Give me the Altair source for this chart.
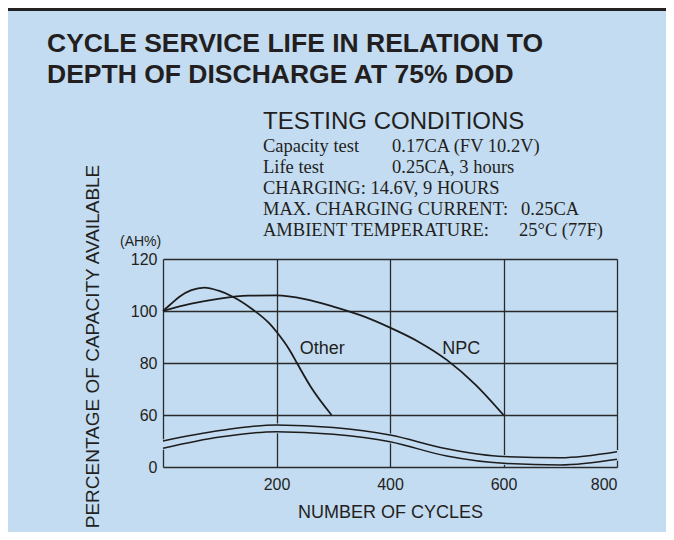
import altair as alt
import pandas as pd

# ---------------- data ----------------
cycles_ticks = [0, 200, 400, 600, 800]
capacity_ticks = [40, 60, 80, 100, 120]   # 40 is shown as "0" (broken axis)

npc_cycles = [0, 50, 100, 150, 200, 250, 300, 350, 400, 450, 500, 550, 600]
npc_capacity = [100, 102.8, 104.8, 105.9, 106.0, 104.6, 101.7, 98.2, 93.6, 88.2, 81.2, 71.8, 60]

other_cycles = [0, 12, 29, 50, 73, 98, 123, 158, 187, 200, 223, 236, 260, 297]
other_capacity = [100, 102.3, 105.5, 108, 109, 107.8, 105.5, 100.6, 95.3, 92, 85, 80, 71, 60]

band_cycles = [0, 100, 200, 300, 400, 500, 600, 700, 800]
band_upper = [50, 54, 56.2, 55.2, 52.3, 47, 44, 43.6, 45.9]
band_lower = [47.2, 51.5, 53.6, 52.6, 49.7, 44.2, 41.4, 40.8, 43]

series_labels = ["Other", "NPC"]
series_label_cycles = [241, 492]
series_label_capacity = [85.4, 85.4]

title_lines = ["CYCLE SERVICE LIFE IN RELATION TO", "DEPTH OF DISCHARGE AT 75% DOD"]
cond_heading = "TESTING CONDITIONS"
cond_left = ["Capacity test", "Life test", "CHARGING: 14.6V, 9 HOURS",
             "MAX. CHARGING CURRENT:", "AMBIENT TEMPERATURE:"]
cond_right = ["0.17CA (FV 10.2V)", "0.25CA, 3 hours", "", "0.25CA", "25°C (77F)"]

# ---------------- style ----------------
BG = "#c3dcf2"
INK = "#231f20"
LINE = "#1c1c1c"
SANS = "Liberation Sans"
SERIF = "Liberation Serif"

npc_df = pd.DataFrame({"cycles": npc_cycles, "capacity": npc_capacity})
other_df = pd.DataFrame({"cycles": other_cycles, "capacity": other_capacity})
band_df = pd.DataFrame({"cycles": band_cycles, "upper": band_upper, "lower": band_lower})
lab_df = pd.DataFrame({"label": series_labels, "cycles": series_label_cycles,
                       "capacity": series_label_capacity})

x_scale = alt.Scale(domain=[0, 800], nice=False)
y_scale = alt.Scale(domain=[40, 120], nice=False, zero=False)

x_axis = alt.Axis(values=cycles_ticks, labelExpr="datum.value == 0 ? '' : datum.label",
                  grid=True, domain=False, ticks=False, gridColor="#2a2a2a", gridWidth=1.3,
                  labelFontSize=16, labelPadding=9, labelFont=SANS, labelColor=INK,
                  title="NUMBER OF CYCLES", titleFont=SANS, titleFontSize=18,
                  titleFontWeight="normal", titleColor=INK, titleY=45, titleBaseline="middle")
y_axis = alt.Axis(values=capacity_ticks, labelExpr="datum.value == 40 ? '0' : datum.label",
                  grid=True, domain=False, ticks=False, gridColor="#2a2a2a", gridWidth=1.3,
                  labelFontSize=16, labelPadding=6, labelFont=SANS, labelColor=INK,
                  title="PERCENTAGE OF CAPACITY AVAILABLE", titleFont=SANS, titleFontSize=19,
                  titleFontWeight="normal", titleColor=INK, titleAngle=270, titleX=-71,
                  titleY=87, titleAlign="center", titleBaseline="middle")


def X():
    return alt.X("cycles:Q", scale=x_scale, axis=x_axis)


def Y(field):
    return alt.Y(f"{field}:Q", scale=y_scale, axis=y_axis)


npc_line = alt.Chart(npc_df).mark_line(color=LINE, strokeWidth=1.8, interpolate="monotone").encode(
    x=X(), y=Y("capacity"))
other_line = alt.Chart(other_df).mark_line(color=LINE, strokeWidth=1.8, interpolate="monotone").encode(
    x=X(), y=Y("capacity"))

band_fill = alt.Chart(band_df).mark_area(fill=BG, stroke=BG, strokeWidth=3, opacity=1,
                                         interpolate="monotone").encode(
    x=X(), y=Y("lower"), y2="upper:Q")
band_up = alt.Chart(band_df).mark_line(color=LINE, strokeWidth=1.5, interpolate="monotone").encode(
    x=X(), y=Y("upper"))
band_lo = alt.Chart(band_df).mark_line(color=LINE, strokeWidth=1.5, interpolate="monotone").encode(
    x=X(), y=Y("lower"))

series_text = alt.Chart(lab_df).mark_text(font=SANS, fontSize=18, color=INK, align="left",
                                          baseline="middle").encode(
    x=X(), y=Y("capacity"), text="label:N")


def txt(s, x, y, size, font=SANS, weight="normal", align="left", baseline="alphabetic"):
    return alt.Chart(pd.DataFrame({"t": [s]})).mark_text(
        font=font, fontSize=size, fontWeight=weight, color=INK, align=align, baseline=baseline
    ).encode(text="t:N", x=alt.value(x), y=alt.value(y))


annotations = [
    txt(title_lines[0], -116, -207, 26.5, weight="bold"),
    txt(title_lines[1], -116, -176, 26.5, weight="bold"),
    txt(cond_heading, 100, -130, 24),
    txt("(AH%)", -43, -13, 14),
]
for i, s in enumerate(cond_left):
    annotations.append(txt(s, 100, -107 + 21 * i, 18.5, font=SERIF))
col_x = [229, 229, 229, 358, 356]
for i, s in enumerate(cond_right):
    if s:
        annotations.append(txt(s, col_x[i], -107 + 21 * i, 18.5, font=SERIF))

# decorative frame of the panel (top edge)
frame_top = alt.Chart(pd.DataFrame({"top_edge": [0]})).mark_rect(color="#222").encode(
    x=alt.value(-155), x2=alt.value(503), y=alt.value(-251), y2=alt.value(-248))

chart = alt.layer(
    npc_line, other_line, band_fill, band_up, band_lo, series_text, *annotations,
    frame_top
).properties(
    width=454, height=208,
    autosize=alt.AutoSizeParams(type="none"),
    padding={"left": 155, "top": 251, "right": 49, "bottom": 65},
).configure(background=BG).configure_view(stroke="transparent")

chart.save("out.html", embed_options={"renderer": "svg", "actions": False})
